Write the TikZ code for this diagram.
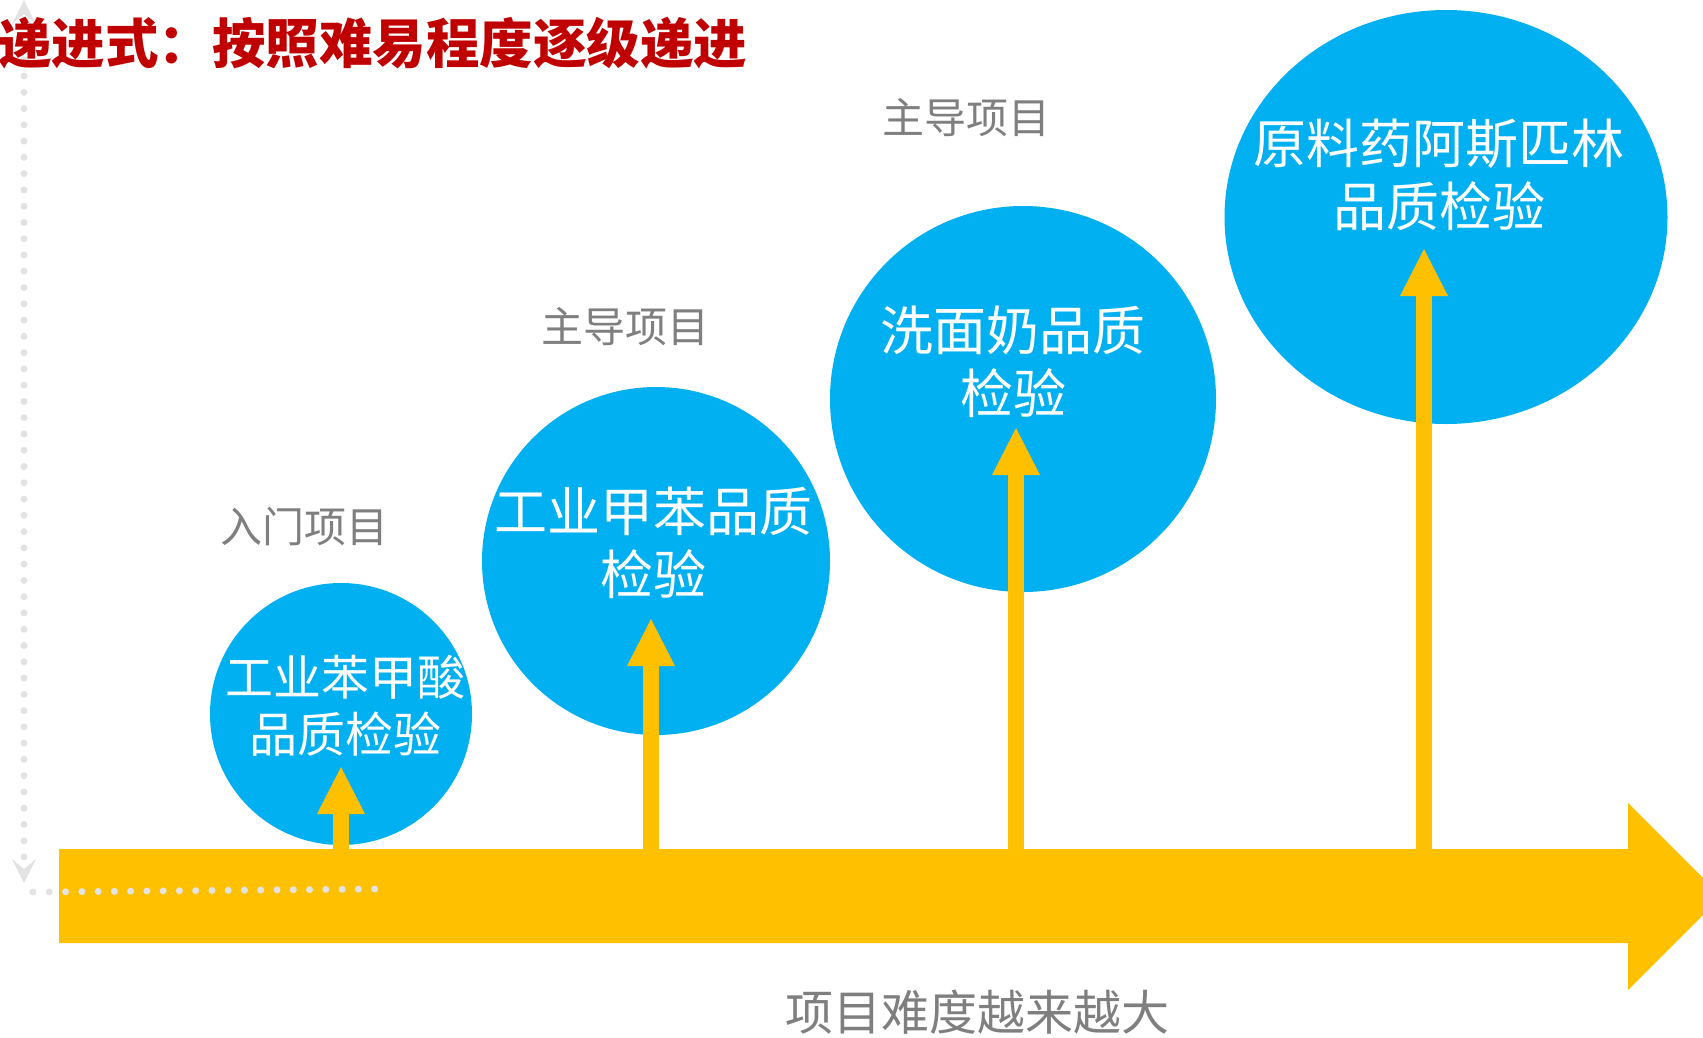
\documentclass[tikz,border=0pt]{standalone}
\usepackage{fontspec}
\newfontfamily\cjk{Noto Sans CJK SC}
\usetikzlibrary{calc,arrows.meta,shapes.geometric}
\definecolor{ballblue}{HTML}{00B0F0}
\definecolor{baryellow}{HTML}{FFC000}
\definecolor{labelgray}{HTML}{7F7F7F}
\definecolor{titlered}{HTML}{C00000}
\definecolor{dotgray}{HTML}{E3E3E3}
\begin{document}
\begin{tikzpicture}[x=1pt,y=-1pt,
  ball/.style={circle,fill=ballblue,inner sep=0pt},
  balltext/.style={text=white,align=center,inner sep=0pt,font=\cjk\fontsize{53}{63}\selectfont},
  grey label/.style={text=labelgray,inner sep=0pt,font=\cjk\fontsize{42}{42}\selectfont},
  uparrow/.style={draw=baryellow,line width=16pt,-{Triangle[width=48pt,length=47pt,line width=0pt]}},
  dotline/.style={draw=dotgray,line width=7pt,line cap=round,dash pattern=on 0pt off 16.27pt}]
  \clip (0,0) rectangle (1703,1037);
  \fill[baryellow] (59,849) -- (1628,849) -- (1628,803) -- (1721.5,896.5) -- (1628,990) -- (1628,943) -- (59,943) -- cycle;
  \draw[dotline] (24,857) -- (24,20);
  \fill[dotgray] (24,883) -- (12,859) -- (24,869) -- (36,859) -- cycle;
  \fill[dotgray] (24,0) -- (36,24) -- (24,14) -- (12,24) -- cycle;
  \draw[dotline] (33,892) -- (375,889);
  \node[ball,minimum size=262pt](c1)at(341,714){};
  \node[ball,minimum size=348pt](c2)at(656,561){};
  \node[ball,minimum size=386pt](c3)at(1023,399){};
  \node[ball,ellipse,minimum width=443pt,minimum height=414pt](c4)at(1446,217){};
  \coordinate (b1) at (341,852); \coordinate (t1) at (341,767);
  \coordinate (b2) at (651,852); \coordinate (t2) at (651,619);
  \coordinate (b3) at (1016,852); \coordinate (t3) at (1016,428);
  \coordinate (b4) at (1424,852); \coordinate (t4) at (1424,249);
  \draw[uparrow] (b1) -- (t1);
  \draw[uparrow] (b2) -- (t2);
  \draw[uparrow] (b3) -- (t3);
  \draw[uparrow] (b4) -- (t4);
  \node[balltext,font=\cjk\fontsize{48}{57}\selectfont](n1)at(345,706){工业苯甲酸\\品质检验};
  \node[balltext](n2)at(653,543){工业甲苯品质\\检验};
  \node[balltext](n3)at(1013,362){洗面奶品质\\检验};
  \node[balltext](n4)at(1439,175){原料药阿斯匹林\\品质检验};
  \node[grey label](g1)at(304,527){入门项目};
  \node[grey label](g2)at(625,327){主导项目};
  \node[grey label](g3)at(966,118){主导项目};
  \node[grey label,font=\cjk\fontsize{48}{48}\selectfont](axis)at(977,1012){项目难度越来越大};
  \node[anchor=west,inner sep=0pt,text=titlered,font=\cjk\bfseries\fontsize{53.5}{53.5}\selectfont](title)at(-2,43){递进式：按照难易程度逐级递进};
\end{tikzpicture}
\end{document}
